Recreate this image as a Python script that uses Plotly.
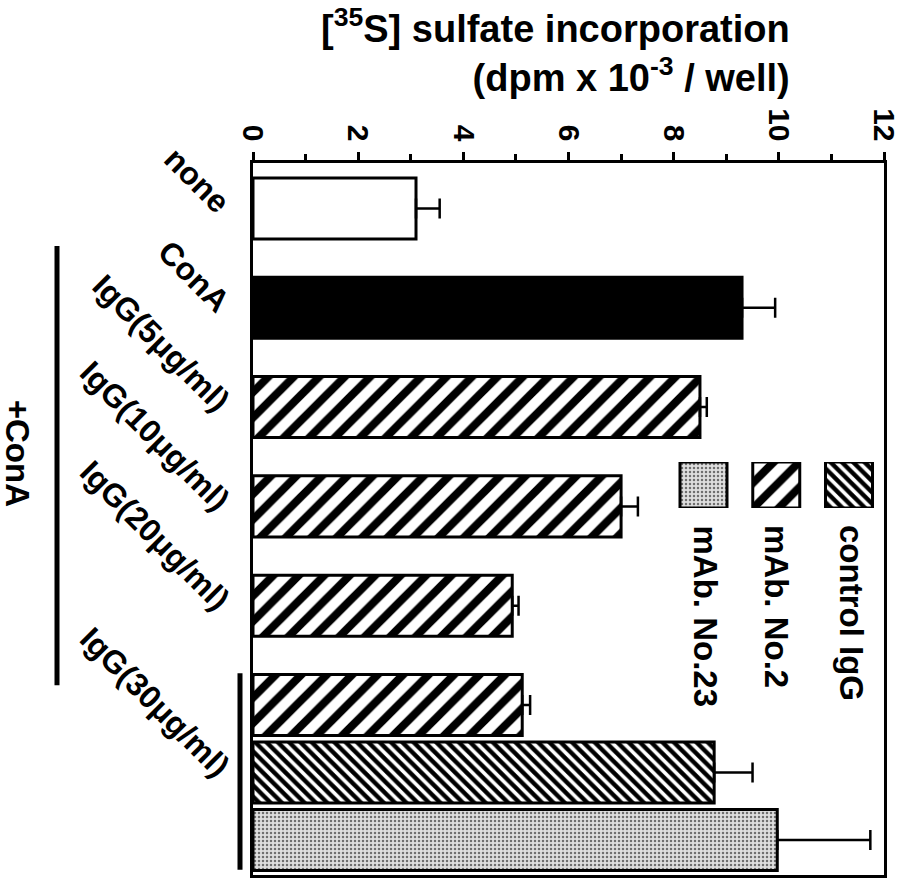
import plotly.graph_objects as go

# Sulfate incorporation (dpm x 10^-3 / well): mean and upper error
base_labels = ["none", "ConA"]
base_values = [3.1, 9.3]
base_errors = [0.45, 0.63]
base_colors = ["white", "black"]

dose_labels = ["IgG(5μg/ml)", "IgG(10μg/ml)", "IgG(20μg/ml)", "IgG(30μg/ml)"]
mab2_values = [8.5, 7.0, 4.93, 5.12]
mab2_errors = [0.13, 0.32, 0.12, 0.15]

control_values = [8.77]
control_errors = [0.73]

mab23_values = [9.97]
mab23_errors = [1.77]

legend_names = ["mAb. No.23", "mAb. No.2", "control IgG"]
x_ticks = [0, 2, 4, 6, 8, 10, 12]

# slot layout: one slot per condition, the 30 ug/ml group packed tighter
group_step = 0.68
base_pos = [0, 1]
mab2_pos = [2, 3, 4, 5]
control_pos = [5 + group_step]
mab23_pos = [5 + 2 * group_step]
bar_w = 0.615

FONT = "Liberation Sans, Arial, Helvetica, sans-serif"

# marker styles
plain_marker = dict(color=base_colors, line=dict(color="black", width=3))
mab2_marker = dict(color="white", line=dict(color="black", width=3),
                   pattern=dict(shape="/", fgcolor="#000000", bgcolor="#ffffff",
                                fgopacity=1, size=18, solidity=0.45))
control_marker = dict(color="white", line=dict(color="black", width=3),
                      pattern=dict(shape="\\", fgcolor="#000000", bgcolor="#ffffff",
                                   fgopacity=1, size=8, solidity=0.55))
mab23_marker = dict(color="#d6d6d6", line=dict(color="black", width=3),
                    pattern=dict(shape=".", fgcolor="#6e6e6e", bgcolor="#dedede",
                                 fgopacity=1, size=4, solidity=0.3))


def hbar(pos, vals, errs, marker):
    return go.Bar(
        x=vals, y=pos, orientation="h", width=bar_w, marker=marker,
        error_x=dict(type="data", array=errs, arrayminus=[0] * len(errs),
                     symmetric=False, color="black", thickness=2.5, width=10),
        showlegend=False, hoverinfo="skip",
    )


fig = go.Figure()
fig.add_trace(hbar(base_pos, base_values, base_errors, plain_marker))
fig.add_trace(hbar(mab2_pos, mab2_values, mab2_errors, mab2_marker))
fig.add_trace(hbar(control_pos, control_values, control_errors, control_marker))
fig.add_trace(hbar(mab23_pos, mab23_values, mab23_errors, mab23_marker))

# legend swatches drawn as small bars on their own axes
for i, mk in enumerate([mab23_marker, mab2_marker, control_marker]):
    fig.add_trace(go.Bar(x=[i], y=[1], width=0.646, marker=mk,
                         xaxis="x2", yaxis="y2", showlegend=False,
                         hoverinfo="skip"))

W, H = 898, 879
L, R, T, B = 253, 14, 163, 4
pw, ph = W - L - R, H - T - B


def px(x):
    return (x - L) / pw


def py(y):
    return (H - B - y) / ph


cat_vals = base_pos + mab2_pos[:3] + control_pos
cat_text = base_labels + dose_labels

fig.update_layout(
    width=W, height=H,
    margin=dict(l=L, r=R, t=T, b=B, autoexpand=False),
    paper_bgcolor="white", plot_bgcolor="white",
    barmode="overlay",
    font=dict(family=FONT, color="black"),
    xaxis=dict(
        side="top", range=[0, 12], tickvals=x_ticks, tickangle=90,
        ticklabeloverflow="allow", automargin=False,
        ticks="outside", ticklen=8, tickwidth=2.5, tickcolor="black",
        minor=dict(dtick=1, tick0=0, ticks="outside", ticklen=6,
                   tickwidth=2.5, tickcolor="black"),
        showline=True, linewidth=3, linecolor="black", mirror=True,
        showgrid=False, zeroline=False,
        tickfont=dict(family=FONT, size=30, weight="bold"),
    ),
    yaxis=dict(
        range=[6.712, -0.458], tickvals=cat_vals, ticktext=cat_text,
        tickangle=45, ticks="", ticklabelstandoff=16, automargin=False,
        showline=True, linewidth=3, linecolor="black", mirror=True,
        showgrid=False, zeroline=False,
        tickfont=dict(family=FONT, size=32, weight="bold"),
    ),
    xaxis2=dict(domain=[px(672), px(880)], range=[-0.433, 2.426],
                anchor="y2", visible=False),
    yaxis2=dict(domain=[py(508), py(462)], range=[0, 1],
                anchor="x2", visible=False),
)

annotations = [
    dict(text="[<sup>35</sup>S] sulfate incorporation<br>(dpm x 10<sup>-3</sup> / well)",
         x=px(792), y=py(0), xref="paper", yref="paper",
         xanchor="right", yanchor="top", align="right", showarrow=False,
         font=dict(family=FONT, size=38, weight="bold")),
    dict(text="+ConA", textangle=90, x=px(17), y=2.46, xref="paper", yref="y",
         xanchor="center", yanchor="middle", showarrow=False,
         font=dict(family=FONT, size=33, weight="bold")),
]
for name, cx in zip(legend_names, [705.5, 776.5, 852]):
    annotations.append(dict(
        text=name, textangle=90, x=px(cx), y=py(523), xref="paper", yref="paper",
        xanchor="center", yanchor="top", showarrow=False,
        font=dict(family=FONT, size=33, weight="bold")))
fig.update_layout(annotations=annotations)

fig.update_layout(shapes=[
    dict(type="line", xref="paper", yref="y", x0=px(57), x1=px(57),
         y0=0.378, y1=4.80, line=dict(color="black", width=5)),
    dict(type="line", xref="paper", yref="y", x0=px(240), x1=px(240),
         y0=4.68, y1=6.66, line=dict(color="black", width=5)),
])

fig.write_html("out.html")
